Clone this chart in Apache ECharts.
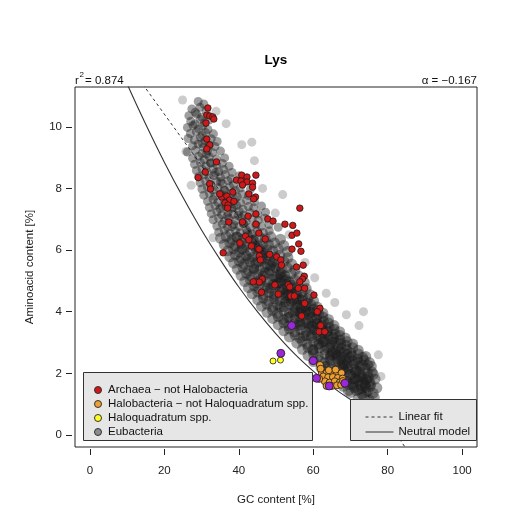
<!DOCTYPE html>
<html>
<head>
<meta charset="utf-8">
<script src="https://cdn.jsdelivr.net/npm/echarts@6/dist/echarts.min.js"></script>
<style>
  html, body { margin: 0; padding: 0; background: #fff; }
  #main { width: 527px; height: 524px; }
</style>
</head>
<body>
<div id="main"></div>
<script>
var FONT = '"Liberation Sans", Arial, sans-serif';

// axis ticks
var xTicks = [0, 20, 40, 60, 80, 100];
var yTicks = [0, 2, 4, 6, 8, 10];

// [GC %, amino acid %]
var eubacteria = [
  [29.1,10.82],[30.6,10.74],
  [27.4,10.58],[29.6,10.63],[31.2,10.52],[28.3,10.47],
  [26.6,10.36],[28.7,10.41],[30.1,10.31],[32.0,10.22],
  [27.1,10.18],[28.2,10.09],[29.6,10.24],[30.8,10.13],
  [26.2,9.98],[27.7,10.04],[29.2,9.93],[30.3,10.02],[31.7,9.91],
  [27.0,9.78],[28.6,9.84],[30.2,9.72],[31.1,9.81],[33.2,9.77],
  [26.4,9.62],[28.1,9.57],[29.7,9.66],[31.0,9.55],[32.6,9.61],[34.2,9.52],
  [27.6,9.38],[29.1,9.44],[30.5,9.33],[32.1,9.41],[33.6,9.36],
  [26.2,9.18],[28.4,9.24],[30.1,9.13],[31.6,9.22],[33.0,9.16],[35.1,9.21],
  [27.6,8.98],[29.2,9.04],[30.7,8.93],[32.1,9.02],[34.0,8.95],[36.2,8.99],
  [28.1,8.78],[29.7,8.84],[31.2,8.73],[32.5,8.82],[34.1,8.76],[35.6,8.81],[37.4,8.72],
  [28.6,8.58],[30.1,8.63],[31.4,8.54],[33.1,8.62],[34.6,8.55],[36.0,8.61],[38.2,8.52],
  [29.2,8.38],[30.6,8.44],[32.1,8.34],[33.4,8.42],[35.1,8.36],[36.4,8.45],[38.0,8.31],[40.2,8.41],
  [29.6,8.18],[31.1,8.24],[32.4,8.13],[34.1,8.22],[35.6,8.16],[37.1,8.25],[38.6,8.12],[41.1,8.19],
  [30.1,7.98],[31.6,8.04],[33.1,7.94],[34.4,8.02],[36.1,7.96],[37.6,8.05],[39.1,7.93],[40.4,8.01],[43.1,7.97],
  [30.6,7.78],[32.1,7.84],[33.5,7.74],[35.1,7.82],[36.4,7.76],[38.1,7.85],[39.6,7.73],[41.0,7.81],[42.6,7.77],
  [31.6,7.58],[33.1,7.64],[34.4,7.54],[36.1,7.62],[37.6,7.56],[39.0,7.65],[40.5,7.53],[42.1,7.61],[44.2,7.57],
  [32.1,7.38],[33.6,7.44],[35.0,7.34],[36.6,7.42],[38.1,7.36],[39.4,7.45],[41.1,7.33],[42.6,7.41],[44.0,7.37],[46.1,7.43],
  [32.6,7.18],[34.1,7.24],[35.4,7.14],[37.1,7.22],[38.6,7.16],[40.1,7.25],[41.4,7.13],[43.1,7.21],[45.1,7.17],[47.2,7.23],
  [33.1,6.98],[34.6,7.04],[36.1,6.94],[37.4,7.02],[39.1,6.96],[40.6,7.05],[42.0,6.93],[43.6,7.01],[45.2,6.97],[47.0,7.03],
  [34.1,6.78],[35.6,6.84],[37.0,6.74],[38.6,6.82],[40.1,6.76],[41.4,6.85],[43.1,6.73],[44.6,6.81],[46.1,6.77],[48.1,6.83],[50.6,6.74],
  [34.6,6.58],[36.1,6.64],[37.6,6.54],[39.1,6.62],[40.4,6.56],[42.1,6.65],[43.6,6.53],[45.0,6.61],[46.6,6.57],[48.2,6.63],
  [35.1,6.38],[36.6,6.44],[38.1,6.34],[39.4,6.42],[41.1,6.36],[42.6,6.45],[44.0,6.33],[45.6,6.41],[47.1,6.37],[48.6,6.43],[51.2,6.35],
  [36.1,6.18],[37.6,6.24],[39.0,6.14],[40.6,6.22],[42.1,6.16],[43.4,6.25],[45.1,6.13],[46.6,6.21],[48.0,6.17],[49.6,6.23],[52.1,6.15],
  [37.1,5.98],[38.6,6.04],[40.1,5.94],[41.4,6.02],[43.1,5.96],[44.6,6.05],[46.0,5.93],[47.6,6.01],[49.1,5.97],[50.6,6.03],[53.1,5.95],
  [37.6,5.78],[39.1,5.84],[40.6,5.74],[42.0,5.82],[43.6,5.76],[45.1,5.85],[46.4,5.73],[48.1,5.81],[49.6,5.77],[51.0,5.83],[53.2,5.75],
  [38.6,5.58],[40.1,5.64],[41.4,5.54],[43.1,5.62],[44.6,5.56],[46.0,5.65],[47.6,5.53],[49.1,5.61],[50.4,5.57],[52.1,5.63],[54.2,5.55],
  [39.6,5.38],[41.1,5.44],[42.6,5.34],[44.0,5.42],[45.6,5.36],[47.1,5.45],[48.4,5.33],[50.1,5.41],[51.6,5.37],[53.0,5.43],[55.1,5.35],
  [40.6,5.18],[42.1,5.24],[43.4,5.14],[45.1,5.22],[46.6,5.16],[48.0,5.25],[49.6,5.13],[51.1,5.21],[52.4,5.17],[54.1,5.23],[56.2,5.15],
  [41.6,4.98],[43.1,5.04],[44.6,4.94],[46.0,5.02],[47.6,4.96],[49.1,5.05],[50.4,4.93],[52.1,5.01],[53.6,4.97],[55.0,5.03],[57.6,4.95],
  [42.6,4.78],[44.1,4.84],[45.4,4.74],[47.1,4.82],[48.6,4.76],[50.0,4.85],[51.6,4.73],[53.1,4.81],[54.4,4.77],[56.1,4.83],[58.1,4.75],
  [43.6,4.58],[45.1,4.64],[46.6,4.54],[48.0,4.62],[49.6,4.56],[51.1,4.65],[52.4,4.53],[54.1,4.61],[55.6,4.57],[57.0,4.63],[59.1,4.55],
  [45.1,4.38],[46.6,4.44],[48.0,4.34],[49.6,4.42],[51.1,4.36],[52.4,4.45],[54.1,4.33],[55.6,4.41],[57.0,4.37],[58.6,4.43],[60.1,4.35],
  [46.1,4.18],[47.6,4.24],[49.1,4.14],[50.4,4.22],[52.1,4.16],[53.6,4.25],[55.0,4.13],[56.6,4.21],[58.1,4.17],[59.4,4.23],[61.1,4.15],
  [47.6,3.98],[49.1,4.04],[50.4,3.94],[52.1,4.02],[53.6,3.96],[55.0,4.05],[56.6,3.93],[58.1,4.01],[59.4,3.97],[61.1,4.03],[62.6,3.95],
  [49.1,3.78],[50.6,3.84],[52.0,3.74],[53.6,3.82],[55.1,3.76],[56.4,3.85],[58.1,3.73],[59.6,3.81],[61.0,3.77],[62.6,3.83],[64.1,3.75],
  [50.6,3.58],[52.1,3.64],[53.4,3.54],[55.1,3.62],[56.6,3.56],[58.0,3.65],[59.6,3.53],[61.1,3.61],[62.4,3.57],[64.1,3.63],[65.6,3.55],
  [52.1,3.38],[53.6,3.44],[55.0,3.34],[56.6,3.42],[58.1,3.36],[59.4,3.45],[61.1,3.33],[62.6,3.41],[64.0,3.37],[65.6,3.43],[67.1,3.35],
  [53.6,3.18],[55.1,3.24],[56.4,3.14],[58.1,3.22],[59.6,3.16],[61.0,3.25],[62.6,3.13],[64.1,3.21],[65.4,3.17],[67.1,3.23],[68.6,3.15],
  [55.6,2.98],[57.1,3.04],[58.4,2.94],[60.1,3.02],[61.6,2.96],[63.0,3.05],[64.6,2.93],[66.1,3.01],[67.4,2.97],[69.1,3.03],[70.6,2.95],
  [57.1,2.78],[58.6,2.84],[60.0,2.74],[61.6,2.82],[63.1,2.76],[64.4,2.85],[66.1,2.73],[67.6,2.81],[69.0,2.77],[70.6,2.83],[72.1,2.75],
  [58.6,2.58],[60.1,2.64],[61.4,2.54],[63.1,2.62],[64.6,2.56],[66.0,2.65],[67.6,2.53],[69.1,2.61],[70.4,2.57],[72.1,2.63],[74.1,2.55],
  [60.1,2.38],[61.6,2.44],[63.0,2.34],[64.6,2.42],[66.1,2.36],[67.4,2.45],[69.1,2.33],[70.6,2.41],[72.0,2.37],[73.6,2.43],[75.1,2.35],
  [62.1,2.18],[63.6,2.24],[65.0,2.14],[66.6,2.22],[68.1,2.16],[69.4,2.25],[71.1,2.13],[72.6,2.21],[74.0,2.17],[75.6,2.23],
  [64.1,1.98],[65.6,2.04],[67.0,1.94],[68.6,2.02],[70.1,1.96],[71.4,2.05],[73.1,1.93],[74.6,2.01],[76.1,1.97],
  [66.1,1.78],[67.6,1.84],[69.0,1.74],[70.6,1.82],[72.1,1.76],[73.4,1.85],[75.1,1.73],[76.6,1.81],
  [68.1,1.58],[69.6,1.64],[71.0,1.54],[72.6,1.62],[74.1,1.56],[75.4,1.65],[77.1,1.53],
  [70.1,1.38],[71.6,1.44],[73.0,1.34],[74.6,1.42],[76.1,1.36],
  [72.1,1.18],[73.6,1.24],[75.0,1.14],[76.4,1.22],
  // dense ridge
  [44.3,6.12],[46.8,5.91],[45.2,5.63],[48.5,5.48],[47.1,5.27],[50.2,5.08],[49.3,4.88],[51.7,4.71],[53.4,4.55],
  [52.6,4.32],[55.8,4.21],[54.7,3.97],[57.2,3.88],[56.3,3.66],[58.9,3.51],[60.4,3.42],[59.5,3.22],[62.1,3.11],
  [61.3,2.92],[63.7,2.83],[65.2,2.69],[64.4,2.48],[66.8,2.39],[68.3,2.27],[67.5,2.06],[69.9,1.96],[71.3,1.82],
  [70.6,1.63],[72.9,1.51],[74.2,1.39],[73.5,1.71],[75.3,1.58],[74.8,1.88],[72.4,2.04],[71.0,2.31],[73.3,2.52],
  [70.1,2.66],[68.7,2.91],[67.2,3.08],[65.9,3.27],[64.3,3.49],[62.8,3.68],[61.5,3.91],[60.1,4.08],[58.4,4.27],
  [57.1,4.46],[55.4,4.63],[54.2,4.87],[52.6,5.04],[51.3,5.26],[49.8,5.44],[48.2,5.68],[46.6,5.86],[45.4,6.06],
  [43.8,6.31],[42.3,6.58],[41.2,6.86],[39.8,7.12],[38.6,7.39],[37.4,7.66],[36.2,7.93],[35.1,8.22],[33.7,8.51],
  [32.4,8.83],[31.3,9.11],[30.2,9.46],[75.8,2.04],[74.6,2.27],[69.4,1.44],[66.1,1.92],[63.2,2.21],[59.9,2.77],
  [57.4,3.21],[55.8,3.56],[53.1,3.81],[51.2,4.16],[49.5,4.49],[47.6,4.76],[45.9,5.06],[44.1,5.37],[42.6,5.71],
  [40.9,6.04],[39.6,6.42],[38.2,6.76],[36.9,7.11],[35.6,7.41],
  [66.4,2.58],[68.9,2.44],[71.7,2.09],[73.9,1.63],[72.2,1.47],[69.2,2.13],[67.1,2.71],[65.0,3.02],[62.9,3.29],
  [60.7,3.61],[58.6,3.92],[56.8,4.12],[54.6,4.38],[52.7,4.62],[50.9,4.94],
  [70.8,1.72],[72.7,1.88],[71.9,2.46],[69.6,2.52],[68.2,2.66],[66.6,2.88],[65.3,3.11],[63.6,3.34],[61.9,3.52],
  [60.6,3.77],[59.2,3.99],[57.6,4.18],[56.1,4.42],[54.3,4.69],[52.9,4.88],[51.5,5.12],[74.2,1.79],[73.1,2.27],
  [67.9,2.32],[64.9,2.61],[62.7,3.02],[58.7,3.62],[56.4,3.98],[53.8,4.44]
];

// faint scattered points around the cloud
var eubacteriaSparse = [
  [24.9,10.87],[40.8,9.42],[43.5,9.5],[51.8,7.8],[73.5,4.0],
  [77.5,2.6],[72.3,3.55],[68.9,3.9],[63.5,4.6],[57.8,5.6],[53.5,6.5],[49.8,7.2],[46.4,8.0],[44.2,8.9],
  [36.6,10.1],[33.9,10.5],[78.2,1.9],[65.8,4.3],[60.4,5.1],[27.2,8.1],[25.8,9.2],[33.1,6.4]
];

var archaea = [
  [31.7,10.61],[31.4,10.38],[32.2,10.35],[33.0,10.32],[33.3,10.25],[31.2,10.12],
  [31.4,9.60],[32.2,9.41],[31.4,9.28],[34.0,8.86],[31.0,8.53],[29.1,8.35],[32.2,8.15],
  [40.8,8.43],[42.2,8.37],[44.6,8.43],[39.4,8.27],[40.6,8.24],[42.2,8.21],[43.7,8.17],[41.0,8.11],[43.7,8.04],
  [32.4,7.98],[38.4,7.88],[35.4,7.72],[36.8,7.75],[34.9,7.82],[37.5,7.62],[38.7,7.58],[36.3,7.53],[37.1,7.46],[37.0,7.36],
  [42.7,7.82],[44.5,7.72],[44.0,7.66],[56.4,7.36],
  [35.8,5.91],[42.5,7.10],[44.6,7.17],[37.3,6.91],[41.0,6.91],[45.4,6.55],[44.6,6.84],[47.8,7.01],[49.2,6.94],
  [52.4,6.84],[54.5,6.80],[54.3,6.48],[55.6,6.55],[56.1,6.20],[54.3,6.03],[56.7,5.96],
  [41.8,6.45],[42.7,6.33],[40.3,6.23],[47.1,6.36],[43.4,6.13],[45.4,6.03],[48.3,5.86],[50.2,5.78],[45.5,5.81],
  [45.8,5.68],[51.3,5.68],[51.5,5.51],[55.5,5.45],[57.3,5.51],[57.6,5.15],[57.1,5.06],
  [46.3,5.06],[45.5,4.96],[43.9,4.97],[49.7,4.87],[53.3,4.87],[56.4,4.97],[53.7,4.80],[56.0,4.76],[57.7,4.76],
  [46.1,4.63],[50.6,4.57],[54.0,4.51],[54.9,4.51],[60.2,4.54],
  [57.7,4.27],[61.8,4.11],[61.1,4.00],[56.9,3.86],[62.0,3.55],[61.6,3.35],[63.1,3.35]
];

var halobacteria = [
  [61.8,2.27],[62.3,2.01],[63.6,2.01],[64.9,2.01],[66.3,2.01],[67.6,2.01],
  [62.7,1.90],[64.0,1.87],[65.3,1.88],[66.6,1.85],[67.9,1.83],
  [63.1,1.74],[64.4,1.70],[65.8,1.74],[67.1,1.70],
  [63.6,1.59],[65.0,1.59],[66.4,1.61],[61.6,1.82],[67.5,1.63],
  [62.0,2.15],[64.2,2.10],[66.0,2.12],[68.0,1.75]
];

var haloquadratum = [[49.2,2.40],[51.2,2.43]];

var otherArchaea = [
  [54.2,3.55],[51.3,2.65],[60.0,2.41],[56.7,1.89],[57.1,1.78],[60.9,1.84],[64.3,1.59],[68.5,1.68]
];

// model lines
var neutralGC  = [5, 10, 15, 20, 25, 30, 35, 40, 45, 50, 55, 60, 65, 70, 75, 80, 85, 90, 95, 100];
var neutralVal = [12.8, 11.39, 10.08, 8.85, 7.71, 6.65, 5.69, 4.80, 4.00, 3.28, 2.63, 2.07, 1.57, 1.15, 0.79, 0.50, 0.28, 0.13, 0.03, 0];
var fitGC  = [0, 100];
var fitVal = [13.75, -2.95];

function pairs(xs, ys) {
  return xs.map(function (x, i) { return [x, ys[i]]; });
}

var chart = echarts.init(document.getElementById('main'), null, {renderer: 'canvas'});

var dot = function (fill, size) {
  return {
    type: 'scatter', symbol: 'circle', symbolSize: size, z: 3,
    itemStyle: {color: fill, borderColor: '#1a1a1a', borderWidth: 0.8, opacity: 1}
  };
};

var option = {
  animation: false,
  textStyle: {fontFamily: FONT},
  grid: {
    left: 75, right: 50, top: 87, bottom: 77,
    show: true, borderColor: '#222', borderWidth: 1, backgroundColor: 'transparent',
    outerBoundsMode: 'none'
  },
  xAxis: {
    type: 'value', min: -4, max: 104, offset: 2,
    splitLine: {show: false},
    axisLine: {show: false, onZero: false},
    axisTick: {show: true, inside: false, customValues: xTicks, length: 6, lineStyle: {color: '#222'}},
    axisLabel: {customValues: xTicks, margin: 16, fontSize: 11.5, color: '#222', fontFamily: FONT},
    name: 'GC content [%]', nameLocation: 'middle', nameGap: 45,
    nameTextStyle: {fontSize: 11.5, color: '#222', fontFamily: FONT}
  },
  yAxis: {
    type: 'value', min: -0.39, max: 11.29, offset: 3,
    splitLine: {show: false},
    axisLine: {show: false, onZero: false},
    axisTick: {show: true, inside: false, customValues: yTicks, length: 6, lineStyle: {color: '#222'}},
    axisLabel: {customValues: yTicks, margin: 10, fontSize: 11.5, color: '#222', fontFamily: FONT},
    name: 'Aminoacid content [%]', nameLocation: 'middle', nameGap: 36,
    nameTextStyle: {fontSize: 11.5, color: '#222', fontFamily: FONT}
  },
  legend: [{
    orient: 'vertical', left: 89, top: 378, z: 20,
    itemWidth: 10, itemHeight: 7, itemGap: 0,
    textStyle: {fontSize: 11.5, color: '#111', lineHeight: 14, fontFamily: FONT},
    data: [
      {name: 'Archaea − not Halobacteria', itemStyle: {color: '#d01818', borderColor: '#333', borderWidth: 1, opacity: 1}},
      {name: 'Halobacteria − not Haloquadratum spp.', itemStyle: {color: '#f0a030', borderColor: '#333', borderWidth: 1, opacity: 1}},
      {name: 'Haloquadratum spp.', itemStyle: {color: '#ffff20', borderColor: '#333', borderWidth: 1, opacity: 1}},
      {name: 'Eubacteria', itemStyle: {color: '#8c8c8c', borderColor: '#333', borderWidth: 1, opacity: 1}}
    ]
  }, {
    orient: 'vertical', left: 360, top: 405, z: 20,
    itemWidth: 28, itemHeight: 14, itemGap: 1,
    textStyle: {fontSize: 11.5, color: '#111', lineHeight: 14, fontFamily: FONT},
    data: [
      {name: 'Linear fit', itemStyle: {opacity: 0}, lineStyle: {color: '#333', width: 1, type: [3, 3]}},
      {name: 'Neutral model', itemStyle: {opacity: 0}, lineStyle: {color: '#333', width: 1, type: 'solid'}}
    ]
  }],
  graphic: [
    {type: 'rect', z: 10, shape: {x: 83.5, y: 372.5, width: 229, height: 68},
     style: {fill: '#e6e6e6', stroke: '#333', lineWidth: 1}},
    {type: 'rect', z: 10, shape: {x: 350.5, y: 399.5, width: 126, height: 41},
     style: {fill: '#e6e6e6', stroke: '#333', lineWidth: 1}},
    {type: 'text', x: 276, y: 60, style: {text: 'Lys', fill: '#000', fontSize: 13.5, fontWeight: 'bold',
      fontFamily: FONT, align: 'center', verticalAlign: 'middle'}},
    {type: 'text', x: 75, y: 81, style: {text: 'r', fill: '#111', fontSize: 11.5, fontFamily: FONT,
      align: 'left', verticalAlign: 'middle'}},
    {type: 'text', x: 79.5, y: 75, style: {text: '2', fill: '#111', fontSize: 8, fontFamily: FONT,
      align: 'left', verticalAlign: 'middle'}},
    {type: 'text', x: 85, y: 81, style: {text: '= 0.874', fill: '#111', fontSize: 11.5, fontFamily: FONT,
      align: 'left', verticalAlign: 'middle'}},
    {type: 'text', x: 477, y: 81, style: {text: 'α = −0.167', fill: '#111', fontSize: 11.5, fontFamily: FONT,
      align: 'right', verticalAlign: 'middle'}}
  ],
  series: [
    {
      name: 'Neutral model', type: 'line', data: pairs(neutralGC, neutralVal),
      symbol: 'none', smooth: 0.3, z: 1, clip: true,
      lineStyle: {color: '#333', width: 1.1, type: 'solid'}, itemStyle: {color: '#333'}
    },
    {
      name: 'Linear fit', type: 'line', data: pairs(fitGC, fitVal),
      symbol: 'none', z: 1, clip: true,
      lineStyle: {color: '#333', width: 1, type: [3, 3]}, itemStyle: {color: '#333'}
    },
    {
      name: 'Eubacteria', type: 'scatter', symbol: 'circle', z: 2,
      // the lower, denser part of the cloud is drawn with slightly larger discs
      symbolSize: function (v) { return v[1] < 6.5 ? 11 : 9; },
      itemStyle: {color: '#1a1a1a', opacity: 0.42, borderWidth: 0},
      data: eubacteria
    },
    {
      name: 'Eubacteria', type: 'scatter', symbol: 'circle', symbolSize: 9, z: 2,
      itemStyle: {color: '#333', opacity: 0.25, borderWidth: 0},
      data: eubacteriaSparse
    },
    Object.assign(dot('#d01818', 6.5), {name: 'Archaea − not Halobacteria', data: archaea}),
    Object.assign(dot('#f0a030', 7), {name: 'Halobacteria − not Haloquadratum spp.', data: halobacteria}),
    Object.assign(dot('#ffff20', 6), {name: 'Haloquadratum spp.', data: haloquadratum}),
    Object.assign(dot('#9a28d8', 8), {name: 'Other Archaea', data: otherArchaea})
  ]
};

chart.setOption(option);
</script>
</body>
</html>
